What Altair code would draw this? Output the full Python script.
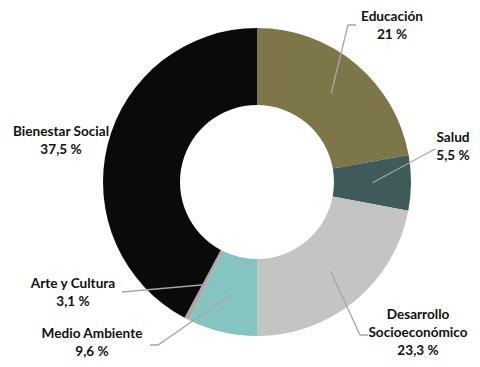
import math
import altair as alt
import pandas as pd

# Data (slice shares as drawn, label texts as printed)
categories = ["Educación", "Salud", "Desarrollo Socioeconómico", "Medio Ambiente",
              "Arte y Cultura", "Bienestar Social"]
drawn_share = [22.2, 5.8, 22.0, 7.3, 0.5, 42.2]
label_pct = ["21 %", "5,5 %", "23,3 %", "9,6 %", "3,1 %", "37,5 %"]
label_lines = [["Educación"], ["Salud"], ["Desarrollo", "Socioeconómico"],
               ["Medio Ambiente"], ["Arte y Cultura"], ["Bienestar Social"]]
colors = ["#7c7648", "#3e5b5a", "#c4c4c4", "#84c4c1", "#a9a9a9", "#0a0a0a"]

# Layout (pixel positions within the chart area; page offset is 8px)
W, H = 464, 351
CX, CY = 249, 174
R_OUT, R_IN = 154, 77
R_MID = (R_OUT + R_IN) / 2
label_pos = [(384, 9), (445, 130), (410, 307), (84, 326), (65, 276), (53, 124)]
line_step = 18.0
leader_bends = [[(340, 17), (348, 17)], [(427, 141)], [(352, 327), (360, 327)],
                [(150, 337), (142, 337)], [(114, 284)], []]

df = pd.DataFrame({"cat": categories, "share": drawn_share,
                   "order": list(range(len(categories)))})

arc = alt.Chart(df).mark_arc(outerRadius=R_OUT, innerRadius=R_IN).encode(
    theta=alt.Theta("share:Q", stack=True),
    order=alt.Order("order:Q"),
    color=alt.Color("cat:N", scale=alt.Scale(domain=categories, range=colors), legend=None),
    x=alt.value(CX), y=alt.value(CY),
)

# leader lines from slice middles
rows = []
total = sum(drawn_share)
start = 0.0
for i, (c, s) in enumerate(zip(categories, drawn_share)):
    mid = (start + s / 2) / total * 2 * math.pi
    start += s
    if not leader_bends[i]:
        continue
    pts = [(CX + R_MID * math.sin(mid), CY - R_MID * math.cos(mid))] + leader_bends[i]
    for k, (px, py) in enumerate(pts):
        rows.append({"cat": c, "k": k, "x": px, "y": py})
lines_df = pd.DataFrame(rows)

leaders = alt.Chart(lines_df).mark_line(color="#a6a6a6", strokeWidth=1.3).encode(
    x=alt.X("x:Q", scale=None, axis=None),
    y=alt.Y("y:Q", scale=None, axis=None),
    detail="cat:N",
    order="k:Q",
)

trow = []
for i, c in enumerate(categories):
    lx, ly = label_pos[i]
    ls = label_lines[i] + [label_pct[i]]
    for j, t in enumerate(ls):
        trow.append({"t": t, "x": lx, "y": ly + j * line_step})
text_df = pd.DataFrame(trow)

texts = alt.Chart(text_df).mark_text(font="Lato", fontWeight="bold", fontSize=13.6,
                                     color="#111111", align="center",
                                     baseline="middle").encode(
    x=alt.X("x:Q", scale=None, axis=None),
    y=alt.Y("y:Q", scale=None, axis=None),
    text="t:N",
)

chart = alt.layer(arc, leaders, texts).properties(
    width=W, height=H, padding=0, autosize=alt.AutoSizeParams(type="none")
).configure_view(stroke=None)

chart.save("out.html", embed_options={"renderer": "svg", "actions": False})
